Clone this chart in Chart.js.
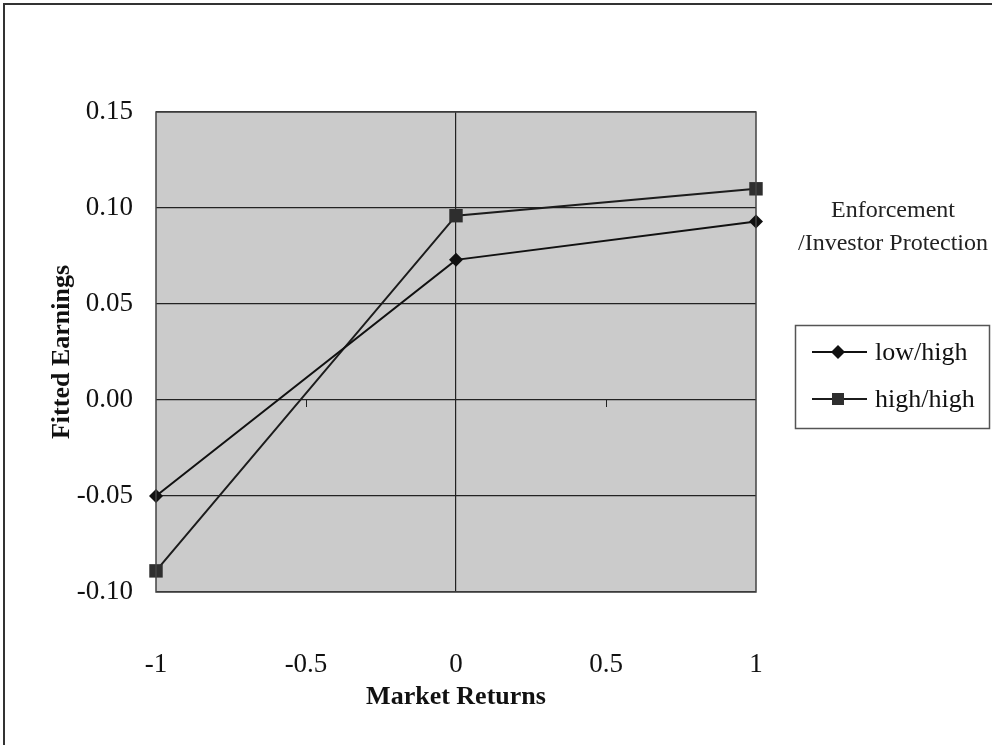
<!DOCTYPE html>
<html>
<head>
<meta charset="utf-8">
<script src="https://cdn.jsdelivr.net/npm/chart.js@4"></script>
<style>
  html, body { margin: 0; padding: 0; background: #fff; }
  #wrap { position: relative; width: 992px; height: 745px; overflow: hidden; }
  #frame { position: absolute; left: 3px; top: 3px; width: 1100px; height: 900px;
           border-left: 2px solid #333; border-top: 2px solid #333; }
  canvas { position: absolute; left: 0; top: 0; }
</style>
</head>
<body>
<div id="wrap">
  <div id="frame"></div>
  <canvas id="chart" width="992" height="745"></canvas>
</div>
<script>
// Data
const marketReturns = [-1, 0, 1];
const lowHigh = [-0.050, 0.073, 0.093];
const highHigh = [-0.089, 0.096, 0.110];
const seriesNames = ["low/high", "high/high"];
const legendTitle = ["Enforcement", "/Investor Protection"];

const serif = "'Liberation Serif', 'Times New Roman', serif";

function toPoints(ys) {
  return marketReturns.map((x, i) => ({ x: x, y: ys[i] }));
}

// gray plot area with its border
const plotBackground = {
  id: "plotBackground",
  beforeDraw(chart) {
    const { ctx, chartArea: a } = chart;
    ctx.save();
    ctx.fillStyle = "#cbcbcb";
    ctx.fillRect(a.left, a.top, a.right - a.left, a.bottom - a.top);
    ctx.restore();
  },
  afterDatasetsDraw(chart) {
    const { ctx, chartArea: a, scales } = chart;
    ctx.save();
    ctx.strokeStyle = "#444";
    ctx.lineWidth = 1.5;
    ctx.strokeRect(a.left, a.top, a.right - a.left, a.bottom - a.top);

    // small tick marks on the horizontal axis (y = 0)
    const y0 = scales.y.getPixelForValue(0);
    ctx.strokeStyle = "#222";
    ctx.lineWidth = 1;
    [-0.5, 0.5].forEach(v => {
      const px = Math.round(scales.x.getPixelForValue(v)) + 0.5;
      ctx.beginPath();
      ctx.moveTo(px, y0);
      ctx.lineTo(px, y0 + 7);
      ctx.stroke();
    });
    ctx.restore();
  }
};

// legend box to the right, with its title above
const boxLegend = {
  id: "boxLegend",
  afterDraw(chart) {
    const ctx = chart.ctx;
    ctx.save();
    ctx.fillStyle = "#222";
    ctx.textAlign = "center";
    ctx.textBaseline = "middle";
    ctx.font = "24px " + serif;
    ctx.fillText(legendTitle[0], 893, 211);
    ctx.fillText(legendTitle[1], 893, 244);

    ctx.strokeStyle = "#555";
    ctx.lineWidth = 1.5;
    ctx.strokeRect(795.5, 325.5, 194, 103);

    ctx.font = "26px " + serif;
    ctx.textAlign = "left";
    chart.data.datasets.forEach((ds, i) => {
      const y = 352 + i * 47;
      ctx.strokeStyle = ds.borderColor;
      ctx.lineWidth = 2;
      ctx.beginPath();
      ctx.moveTo(812, y);
      ctx.lineTo(867, y);
      ctx.stroke();
      ctx.fillStyle = ds.pointBackgroundColor;
      if (ds.pointStyle === "rectRot") {
        ctx.beginPath();
        ctx.moveTo(838, y - 7);
        ctx.lineTo(845, y);
        ctx.lineTo(838, y + 7);
        ctx.lineTo(831, y);
        ctx.closePath();
        ctx.fill();
      } else {
        ctx.fillRect(832, y - 6, 12, 12);
      }
      ctx.fillStyle = "#111";
      ctx.fillText(ds.label, 875, y + 1);
    });
    ctx.restore();
  }
};

const ctx = document.getElementById("chart").getContext("2d");

new Chart(ctx, {
  type: "line",
  data: {
    datasets: [
      {
        label: seriesNames[0],
        data: toPoints(lowHigh),
        borderColor: "#111",
        borderWidth: 2,
        pointStyle: "rectRot",
        pointRadius: 7,
        pointBackgroundColor: "#111",
        pointBorderColor: "#111",
        pointBorderWidth: 0,
        tension: 0,
        clip: false
      },
      {
        label: seriesNames[1],
        data: toPoints(highHigh),
        borderColor: "#1c1c1c",
        borderWidth: 2,
        pointStyle: "rect",
        pointRadius: 9.5,
        pointBackgroundColor: "#2e2e2e",
        pointBorderColor: "#2e2e2e",
        pointBorderWidth: 0,
        tension: 0,
        clip: false
      }
    ]
  },
  options: {
    responsive: false,
    animation: false,
    layout: {
      padding: { left: 40, right: 236, top: 112, bottom: 0 }
    },
    plugins: {
      legend: { display: false },
      tooltip: { enabled: false }
    },
    scales: {
      x: {
        type: "linear",
        min: -1,
        max: 1,
        afterFit(scale) { scale.height = 153; },
        ticks: {
          stepSize: 0.5,
          padding: 57,
          color: "#111",
          font: { family: serif, size: 27 },
          callback: v => String(v)
        },
        grid: {
          drawTicks: false,
          lineWidth: 1.2,
          color: c => (c.tick && c.tick.value === 0 ? "#222" : "rgba(0,0,0,0)")
        },
        border: { display: false },
        title: {
          display: true,
          text: "Market Returns",
          color: "#111",
          font: { family: serif, size: 26, weight: "bold" },
          padding: { top: 0, bottom: 32 }
        }
      },
      y: {
        min: -0.1,
        max: 0.15,
        afterFit(scale) { scale.width = 116; },
        ticks: {
          stepSize: 0.05,
          padding: 23,
          color: "#111",
          font: { family: serif, size: 27 },
          callback: v => (Math.abs(v) < 1e-9 ? 0 : v).toFixed(2)
        },
        grid: {
          drawTicks: false,
          lineWidth: 1.2,
          color: "#222"
        },
        border: { display: false },
        title: {
          display: true,
          text: "Fitted Earnings",
          color: "#111",
          font: { family: serif, size: 26, weight: "bold" },
          padding: { top: 7, bottom: 0 }
        }
      }
    }
  },
  plugins: [plotBackground, boxLegend]
});
</script>
</body>
</html>
